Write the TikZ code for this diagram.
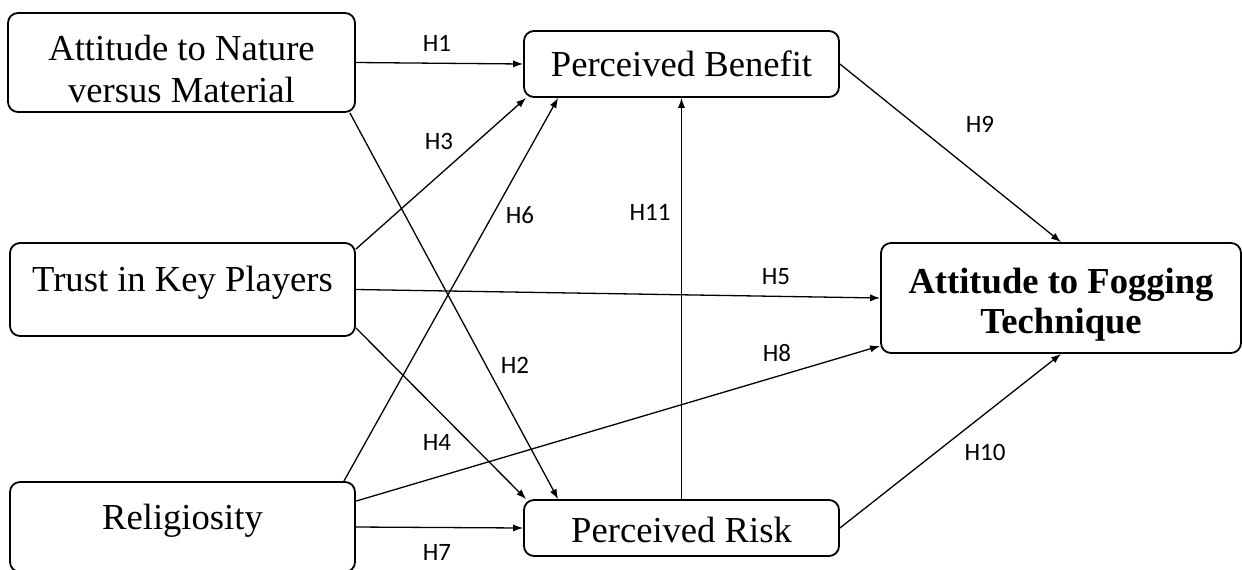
\documentclass[tikz,border=0pt]{standalone}
\usepackage{fontspec}
\setmainfont{Liberation Serif}
\newfontfamily\labelfont{Carlito}
\usetikzlibrary{arrows.meta,calc}
\begin{document}
\begin{tikzpicture}[x=0.5pt,y=-0.5pt,
  box/.style={draw, line width=0.9pt, rounded corners=5pt, inner sep=0pt, font=\fontsize{18.3}{21}\selectfont},
  boxtext/.style={inner sep=0pt, align=center, font=\fontsize{18.3}{20.8}\selectfont},
  link/.style={line width=0.65pt, -{Latex[length=5pt,width=3.6pt]}},
  hlab/.style={font=\labelfont\fontsize{12.5}{14}\selectfont, inner sep=0pt}]
\useasboundingbox (0,0) rectangle (1242,569);
% boxes
\node[box, minimum width=173.5pt, minimum height=49.5pt] (A) at (181.5,62.5) {};
\node[boxtext] (At) at ($(A.center)+(0,6.5)$) {Attitude to Nature\\versus Material};
\node[box, minimum width=172.5pt, minimum height=46.5pt, text depth=10.4pt] (B) at (182.5,289.5) {Trust in Key Players};
\node[box, minimum width=172.5pt, minimum height=45pt, text depth=9.9pt] (C) at (182.5,527) {Religiosity};
\node[box, minimum width=157.5pt, minimum height=33pt] (PB) at (681.5,64) {Perceived Benefit};
\node[box, minimum width=157.5pt, minimum height=28pt, text height=14pt, text depth=0pt] (PR) at (681.5,528) {Perceived Risk};
\node[box, minimum width=180pt, minimum height=55pt] (AF) at (1061,298) {};
\node[boxtext, font=\fontsize{18.3}{20}\selectfont\bfseries] (AFt) at ($(AF.center)+(0,7)$) {Attitude to Fogging\\Technique};
% connectors
\draw[link] (A.east) -- (PB.west);
\draw[link] ($(A.south east)+(-6,0)$) -- ($(PR.north west)+(35,0)$);
\draw[link] ($(B.north east)+(0,7)$) -- ($(PB.south west)+(3,0)$);
\draw[link] ($(B.south east)+(0,-9)$) -- ($(PR.north west)+(3,0)$);
\draw[link] (B.east) -- (AF.west);
\draw[link] ($(C.north east)+(-12,0)$) -- ($(PB.south west)+(35,0)$);
\draw[link] (C.east) -- (PR.west);
\draw[link] ($(C.north east)+(0,20)$) -- ($(AF.south west)+(0,-8)$);
\draw[link] (PB.east) -- (AF.north);
\draw[link] (PR.east) -- (AF.south);
\draw[link] (PR.north) -- (PB.south);
% labels
\node[hlab] (h1) at (437,43) {H1};
\node[hlab] (h2) at (515,365) {H2};
\node[hlab] (h3) at (439,141) {H3};
\node[hlab] (h4) at (437,442) {H4};
\node[hlab] (h5) at (776,277) {H5};
\node[hlab] (h6) at (520,215) {H6};
\node[hlab] (h7) at (437,552) {H7};
\node[hlab] (h8) at (777,353) {H8};
\node[hlab] (h9) at (980,124) {H9};
\node[hlab] (h10) at (985,452) {H10};
\node[hlab] (h11) at (650,212) {H11};
\end{tikzpicture}
\end{document}
